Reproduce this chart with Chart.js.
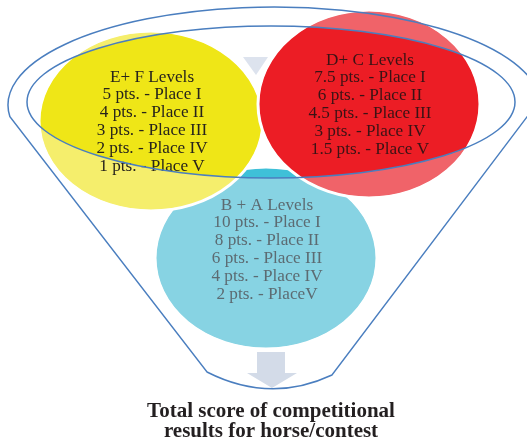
<!DOCTYPE html>
<html>
<head>
<meta charset="utf-8">
<script src="https://cdn.jsdelivr.net/npm/chart.js@4.4.1/dist/chart.umd.min.js"></script>
<style>
  html, body { margin: 0; padding: 0; background: #fff; }
  canvas { display: block; }
</style>
</head>
<body>
<canvas id="myChart_funnel" width="527" height="442"></canvas>
<script>
// du lieu
var groups = ['E+ F Levels', 'D+ C Levels', 'B + A Levels'];
var places = ['Place I', 'Place II', 'Place III', 'Place IV', 'Place V'];
var placesBA = ['Place I', 'Place II', 'Place III', 'Place IV', 'PlaceV'];
var ptsEF = [5, 4, 3, 2, 1];
var ptsDC = [7.5, 6, 4.5, 3, 1.5];
var ptsBA = [10, 8, 6, 4, 2];
var titleLines = ['Total score of competitional', 'results for horse/contest'];

// bo cuc (toa do theo truc x/y cua chart)
var circles = [
    // blue first (bottom), then yellow, red on top
    { name: groups[2], pts: ptsBA, pl: placesBA, cx: 266, cy: 258, rx: 110, ry: 90, light: '#87d3e3', dark: '#3fc0d8', text: '#5c6b72', ty: 205 },
    { name: groups[0], pts: ptsEF, pl: places,   cx: 151, cy: 121, rx: 111, ry: 89, light: '#f5ee6c', dark: '#efe617', text: '#27241c', ty: 77 },
    { name: groups[1], pts: ptsDC, pl: places,   cx: 369, cy: 104, rx: 110, ry: 93, light: '#f06369', dark: '#ec1d25', text: '#3a1315', ty: 60 }
];
var lineH = 17.8;

var funnelPlugin = {
    id: 'funnel',
    beforeDatasetsDraw: function(chart) {
        var c = chart.ctx;
        var sx = chart.scales.x, sy = chart.scales.y;
        function X(v) { return sx.getPixelForValue(v); }
        function Y(v) { return sy.getPixelForValue(v); }
        function inner() {
            c.beginPath();
            c.ellipse(X(271), Y(102), 244, 76, 0, 0, Math.PI * 2);
        }

        c.save();
        // mui ten tren
        c.fillStyle = '#dde3ee';
        c.beginPath();
        c.moveTo(X(243), Y(57)); c.lineTo(X(268), Y(57)); c.lineTo(X(256), Y(75));
        c.closePath(); c.fill();

        // cac hinh tron
        circles.forEach(function(o) {
            c.beginPath();
            c.ellipse(X(o.cx), Y(o.cy), o.rx, o.ry, 0, 0, Math.PI * 2);
            c.fillStyle = o.light;
            c.fill();
            c.save();
            inner(); c.clip();
            c.beginPath();
            c.ellipse(X(o.cx), Y(o.cy), o.rx, o.ry, 0, 0, Math.PI * 2);
            c.fillStyle = o.dark;
            c.fill();
            c.restore();
            c.beginPath();
            c.ellipse(X(o.cx), Y(o.cy), o.rx + 1, o.ry + 1, 0, 0, Math.PI * 2);
            c.strokeStyle = '#ffffff';
            c.lineWidth = 3;
            c.stroke();
        });

        // chu trong hinh tron
        c.font = '17.2px "Liberation Serif", "Times New Roman", serif';
        c.textAlign = 'center';
        c.textBaseline = 'middle';
        circles.forEach(function(o) {
            c.fillStyle = o.text;
            var lines = [o.name];
            o.pts.forEach(function(p, i) { lines.push(p + ' pts. - ' + o.pl[i]); });
            lines.forEach(function(t, i) {
                c.fillText(t, X(o.cx + 1), Y(o.ty + i * lineH));
            });
        });

        // mui ten duoi
        c.fillStyle = '#d3dbe8';
        c.beginPath();
        c.moveTo(X(257), Y(352)); c.lineTo(X(285), Y(352)); c.lineTo(X(285), Y(373));
        c.lineTo(X(297), Y(373)); c.lineTo(X(272), Y(388)); c.lineTo(X(247), Y(373));
        c.lineTo(X(257), Y(373));
        c.closePath(); c.fill();

        // vien pheu
        c.strokeStyle = '#4a7ebf';
        c.lineWidth = 1.5;
        c.beginPath();
        c.ellipse(X(274), Y(105), 266, 98, 0, Math.PI - 0.12, Math.PI * 2 - 0.05, false);
        c.lineTo(X(332), Y(375));
        c.quadraticCurveTo(X(270), Y(404), X(207), Y(372));
        c.closePath();
        c.stroke();
        inner(); c.stroke();

        // tieu de
        c.fillStyle = '#231f20';
        c.font = 'bold 21px "Liberation Serif", "Times New Roman", serif';
        c.textBaseline = 'alphabetic';
        c.fillText(titleLines[0], X(271), Y(417));
        c.fillText(titleLines[1], X(271), Y(437));
        c.restore();
    }
};

var ctx = document.getElementById('myChart_funnel');
var myChart = new Chart(ctx, {
    type: 'scatter',
    data: { datasets: [] },
    options: {
        responsive: false,
        animation: false,
        layout: { padding: 0 },
        plugins: { legend: { display: false }, tooltip: { enabled: false } },
        scales: {
            x: { type: 'linear', min: 0, max: 527, display: false },
            y: { type: 'linear', min: 0, max: 442, reverse: true, display: false }
        }
    },
    plugins: [funnelPlugin]
});
</script>
</body>
</html>
